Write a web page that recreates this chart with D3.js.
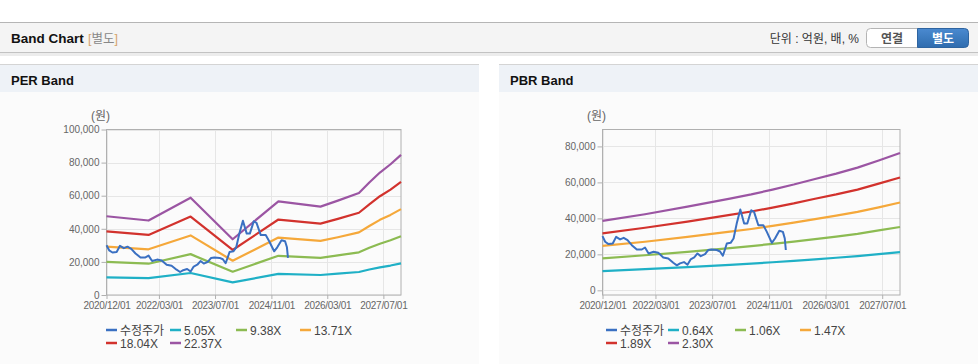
<!DOCTYPE html>
<html>
<head>
<meta charset="utf-8">
<script src="https://cdn.jsdelivr.net/npm/d3@7"></script>
<style>
  body { margin: 0; background: #fff; }
  svg text { font-family: "Liberation Sans", Arial, "Noto Sans CJK KR", sans-serif; }
</style>
</head>
<body>
<svg id="page"></svg>
<script>
var width = 978, height = 364;

// price (수정주가), same stock on both charts
var priceDates = ["2020-12-01","2020-12-24","2021-01-22","2021-02-27","2021-03-28","2021-05-01","2021-06-01","2021-07-04",
  "2021-08-10","2021-09-22","2021-11-04","2021-12-01","2022-01-01","2022-02-13","2022-03-25","2022-05-07","2022-06-19",
  "2022-08-01","2022-09-01","2022-09-28","2022-11-01","2022-12-01","2022-12-28","2023-01-28","2023-02-25","2023-03-25",
  "2023-05-01","2023-05-28","2023-06-25","2023-08-10","2023-09-07","2023-10-01","2023-10-19","2023-11-04","2023-12-07",
  "2024-01-01","2024-01-28","2024-02-28","2024-04-01","2024-04-28","2024-06-01","2024-06-25","2024-08-01","2024-09-13",
  "2024-10-13","2024-11-25","2024-12-22","2025-01-28","2025-02-28","2025-03-16","2025-03-25"];
var priceValues = [30100,27000,25700,26000,29700,28300,29200,27900,
  25100,22700,22700,23800,20500,21400,20900,18300,17700,
  15300,13900,15000,15700,14200,17200,18300,20500,19000,
  20100,22400,22700,22400,21600,19200,22700,26000,26400,
  28800,37100,44900,37100,37100,44500,43600,36200,36200,
  32500,26400,28800,33100,32500,28800,22400];

// PER band
var perDates = ["2020-12-01","2021-12-01","2022-12-01","2023-12-01","2025-01-01","2026-01-01","2026-06-01","2026-12-01",
  "2027-03-01","2027-06-01","2027-09-01","2027-12-01"];
var per505  = [10700,10200,13300, 7600,12800,12100,12900,13900,15400,16700,17800,19100];
var per938  = [20000,18900,24700,14100,23700,22400,23900,25800,28500,31000,33100,35500];
var per1371 = [29200,27600,36000,20700,34700,32700,34900,37800,41700,45400,48400,51900];
var per1804 = [38400,36300,47400,27200,45600,43100,46000,49700,54800,59700,63700,68300];
var per2237 = [47600,45000,58800,33700,56600,53400,57000,61600,68000,74000,79000,84700];
var perLabels = ["5.05X","9.38X","13.71X","18.04X","22.37X"];

// PBR band
var pbrDates = ["2020-12-01","2021-12-01","2022-12-01","2023-12-01","2024-06-01","2024-12-01","2025-06-01","2025-12-01",
  "2026-06-01","2026-12-01","2027-06-01","2027-12-01"];
var pbr064 = [10700,11800,12900,14200,14800,15600,16400,17200,18100,19000,20100,21200];
var pbr106 = [17800,19500,21400,23500,24600,25800,27100,28500,29900,31400,33300,35200];
var pbr147 = [24700,27000,29700,32600,34100,35800,37600,39600,41500,43600,46100,48800];
var pbr189 = [31700,34800,38200,41900,43800,46000,48300,50900,53300,56000,59300,62700];
var pbr230 = [38600,42300,46500,51000,53300,56000,58800,61900,64900,68200,72200,76300];
var pbrLabels = ["0.64X","1.06X","1.47X","1.89X","2.30X"];

var xTicks = ["2020-12-01","2022-03-01","2023-07-01","2024-11-01","2026-03-01","2027-07-01"];
var perYTicks = [0,20000,40000,60000,80000,100000];
var pbrYTicks = [0,20000,40000,60000,80000];

var priceColor = "#3a70c2";
var bandColors = ["#1fb0c6","#8cbb52","#f5a83a","#d2322d","#9b55a3"];

var parse = d3.timeParse("%Y-%m-%d");

var svg = d3.select("#page").attr("width", width).attr("height", height);

// ---- top header bar
svg.append("rect").attr("x",0).attr("y",22).attr("width",width).attr("height",31).attr("fill","#f4f4f4");
svg.append("rect").attr("x",0).attr("y",53).attr("width",width).attr("height",3).attr("fill","#ececec");
svg.append("line").attr("x1",0).attr("x2",width).attr("y1",22.5).attr("y2",22.5).attr("stroke","#b5b5b5");
svg.append("line").attr("x1",0).attr("x2",width).attr("y1",52.5).attr("y2",52.5).attr("stroke","#c2c2c2");

svg.append("text").attr("x",11).attr("y",43).attr("font-size","13.5px").attr("font-weight","bold")
  .attr("fill","#111").text("Band Chart");
var tag = svg.append("text").attr("x",88).attr("y",43).attr("font-size","12.5px").attr("fill","#888");
tag.append("tspan").attr("fill","#d6a36a").text("[");
tag.append("tspan").attr("font-family","'Noto Sans CJK KR'").text("별도");
tag.append("tspan").attr("fill","#d6a36a").text("]");

svg.append("text").attr("x",859).attr("y",43).attr("text-anchor","end").attr("font-size","12px")
  .attr("fill","#333").attr("font-family","'Noto Sans CJK KR'").text("단위 : 억원, 배, %");

// buttons
svg.append("path").attr("d","M 870.5 28.5 H 917.5 V 47.5 H 870.5 Q 866.5 47.5 866.5 43.5 V 32.5 Q 866.5 28.5 870.5 28.5 Z")
  .attr("fill","#fff").attr("stroke","#b4b4b4");
var grad = svg.append("defs").append("linearGradient").attr("id","btnBlue").attr("x1",0).attr("x2",0).attr("y1",0).attr("y2",1);
grad.append("stop").attr("offset","0").attr("stop-color","#4a8ad0");
grad.append("stop").attr("offset","1").attr("stop-color","#2f6cae");
svg.append("path").attr("d","M 917.5 28.5 H 964.5 Q 968.5 28.5 968.5 32.5 V 43.5 Q 968.5 47.5 964.5 47.5 H 917.5 Z")
  .attr("fill","url(#btnBlue)").attr("stroke","#2e64a0");
svg.append("text").attr("x",892).attr("y",43).attr("text-anchor","middle").attr("font-size","12px").attr("font-weight","bold")
  .attr("fill","#555").attr("font-family","'Noto Sans CJK KR'").text("연결");
svg.append("text").attr("x",943).attr("y",43).attr("text-anchor","middle").attr("font-size","12px").attr("font-weight","bold")
  .attr("fill","#fff").attr("font-family","'Noto Sans CJK KR'").text("별도");

// ---- one panel with its band chart
function drawBand(o) {
  var g = svg.append("g");

  g.append("rect").attr("x",o.px).attr("y",64).attr("width",o.pw).attr("height",height-64).attr("fill","#fbfbfb");
  g.append("rect").attr("x",o.px).attr("y",64).attr("width",o.pw).attr("height",28).attr("fill","#eef2f7");
  g.append("line").attr("x1",o.px).attr("x2",o.px+o.pw).attr("y1",64.5).attr("y2",64.5).attr("stroke","#d4d4d4");
  g.append("text").attr("x",o.px+11).attr("y",85).attr("font-size","13px").attr("font-weight","bold")
    .attr("fill","#111").text(o.title);

  var x = d3.scaleTime()
    .domain([parse("2020-12-01"), parse("2027-12-01")])
    .range([o.left, o.right]);
  var y = d3.scaleLinear()
    .domain(o.yDomain)
    .range([295, 129.5]);

  // grid
  g.append("g").selectAll("line").data(o.yTicks).enter().append("line")
    .attr("x1",o.left).attr("x2",o.right)
    .attr("y1",function(d){ return Math.round(y(d))+0.5; })
    .attr("y2",function(d){ return Math.round(y(d))+0.5; })
    .attr("stroke","#e6e6e6");
  g.append("g").selectAll("line").data(xTicks).enter().append("line")
    .attr("x1",function(d){ return Math.round(x(parse(d)))+0.5; })
    .attr("x2",function(d){ return Math.round(x(parse(d)))+0.5; })
    .attr("y1",129.5).attr("y2",295)
    .attr("stroke","#e6e6e6");

  // frame
  g.append("rect").attr("x",o.left).attr("y",129.5).attr("width",o.right-o.left).attr("height",295-129.5)
    .attr("fill","none").attr("stroke","#b0b0b0");

  // axes
  var yAxis = g.append("g").attr("transform","translate(" + o.left + ",0)")
    .call(d3.axisLeft(y).tickValues(o.yTicks).tickFormat(d3.format(",")).tickSize(5).tickPadding(2));
  var xAxis = g.append("g").attr("transform","translate(0,295)")
    .call(d3.axisBottom(x).tickValues(xTicks.map(parse)).tickFormat(d3.timeFormat("%Y/%m/%d")).tickSize(4).tickPadding(3));
  [yAxis, xAxis].forEach(function(a){
    a.select(".domain").remove();
    a.selectAll(".tick line").attr("stroke","#b0b0b0");
    a.selectAll("text").attr("fill","#666").attr("font-size","10px").attr("font-family","'Liberation Sans', Arial, sans-serif");
  });
  xAxis.selectAll("text").attr("letter-spacing","-0.3px");

  g.append("text").attr("x",o.left-6).attr("y",120).attr("text-anchor","middle").attr("font-size","12px")
    .attr("fill","#666").attr("font-family","'Noto Sans CJK KR'").text("(원)");

  var line = d3.line()
    .x(function(d){ return x(d.date); })
    .y(function(d){ return y(d.value); });

  o.bands.forEach(function(vals, i){
    var pts = o.bandDates.map(function(d, j){ return { date: parse(d), value: vals[j] }; });
    g.append("path").datum(pts).attr("d", line)
      .attr("fill","none").attr("stroke", bandColors[i]).attr("stroke-width", 2.2).attr("stroke-linejoin","round");
  });

  var pricePts = priceDates.map(function(d, j){ return { date: parse(d), value: priceValues[j] }; });
  g.append("path").datum(pricePts).attr("d", line)
    .attr("fill","none").attr("stroke", priceColor).attr("stroke-width", 2).attr("stroke-linejoin","round");

  // legend
  var names = ["수정주가"].concat(o.labels);
  var colors = [priceColor].concat(bandColors);
  var leg = g.append("g").selectAll("g").data(names).enter().append("g")
    .attr("transform", function(d, i){
      return "translate(" + o.legendX[i % 4] + "," + (i < 4 ? 330 : 343) + ")";
    });
  leg.append("line").attr("x1",0).attr("x2",11).attr("y1",0).attr("y2",0)
    .attr("stroke", function(d, i){ return colors[i]; }).attr("stroke-width", 2.5);
  leg.append("text").attr("x",14).attr("y",4.5).attr("font-size","12px").attr("fill","#444")
    .attr("font-family", function(d, i){ return i === 0 ? "'Noto Sans CJK KR'" : "'Liberation Sans', Arial, sans-serif"; })
    .text(function(d){ return d; });
}

drawBand({
  title: "PER Band", px: 0, pw: 479,
  left: 106.5, right: 401, yDomain: [0, 100000], yTicks: perYTicks,
  bandDates: perDates, bands: [per505, per938, per1371, per1804, per2237], labels: perLabels,
  legendX: [106, 170, 236, 300]
});

drawBand({
  title: "PBR Band", px: 499, pw: 479,
  left: 602.5, right: 900, yDomain: [-2600, 89400], yTicks: pbrYTicks,
  bandDates: pbrDates, bands: [pbr064, pbr106, pbr147, pbr189, pbr230], labels: pbrLabels,
  legendX: [606, 668, 735, 800]
});
</script>
</body>
</html>
